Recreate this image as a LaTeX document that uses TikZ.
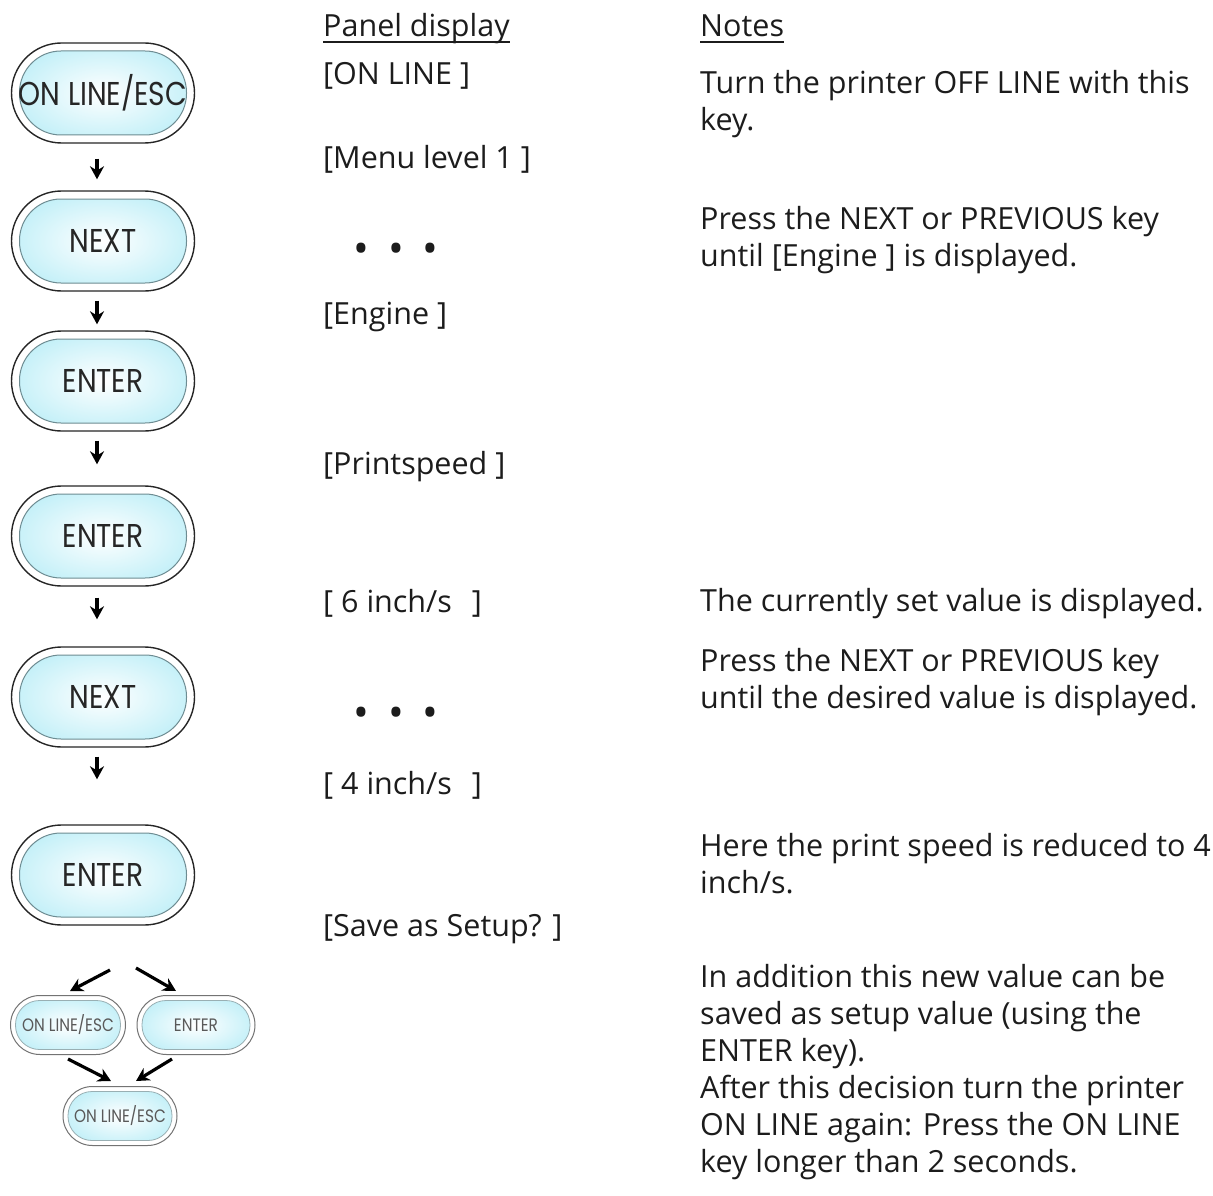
\documentclass[tikz,border=0pt]{standalone}
\usepackage{fontspec}
\setmainfont{Open Sans}
\newfontfamily\keyfont[FakeStretch=0.85]{Poppins}
\usetikzlibrary{arrows.meta, calc, shapes.misc}
\definecolor{keyblue}{RGB}{196,240,248}
\definecolor{keyedge}{RGB}{110,140,146}
\definecolor{ink}{RGB}{28,28,28}

\tikzset{
  keybig/.style={rounded rectangle, draw=black!85, line width=1.4pt, fill=white,
    minimum width=183pt, minimum height=100pt, inner sep=0pt, text=black!85,
    font=\keyfont\fontsize{33}{33}\selectfont,
    path picture={\shadedraw[inner color=white, outer color=keyblue, draw=keyedge, line width=1pt, rounded corners=41.5pt]
      ([shift={(8pt,8pt)}]path picture bounding box.south west) rectangle ([shift={(-8pt,-8pt)}]path picture bounding box.north east);}},
  keysmall/.style={rounded rectangle, draw=black!55, line width=1pt, fill=white,
    minimum width=115pt, minimum height=59pt, inner sep=0pt, text=black!65,
    font=\keyfont\fontsize{18}{18}\selectfont,
    path picture={\shadedraw[inner color=white, outer color=keyblue, draw=keyedge!70, line width=0.8pt, rounded corners=24pt]
      ([shift={(5pt,5pt)}]path picture bounding box.south west) rectangle ([shift={(-5pt,-5pt)}]path picture bounding box.north east);}},
  panel/.style={anchor=base west, inner sep=0pt, align=left, text=ink},
  dots/.style={text=ink, font=\fontsize{42}{42}\selectfont},
  keyarrow/.style={-{Stealth[length=13pt, width=14pt]}, line width=3.2pt},
}

\begin{document}
\begin{tikzpicture}[x=1pt, y=-1pt, every node/.style={font=\fontsize{30.5}{37}\selectfont}]
  \useasboundingbox (0,0) rectangle (1213,1196);
  % keys
  \node[keybig] (esc) at (103,93) {ON LINE/ESC};
  \node[keybig] (next1) at (103,241) {NEXT};
  \node[keybig] (enter1) at (103,381) {ENTER};
  \node[keybig] (enter2) at (103,536) {ENTER};
  \node[keybig] (next2) at (103,697) {NEXT};
  \node[keybig] (enter3) at (103,875) {ENTER};
  \node[keysmall] (escl) at (68,1025) {ON LINE/ESC};
  \node[keysmall, minimum width=118pt] (entl) at (196,1025) {ENTER};
  \node[keysmall, minimum width=114pt] (escb) at (120,1116) {ON LINE/ESC};

  \draw[keyarrow, shorten <=15pt, shorten >=11pt] ([xshift=-6pt]esc.south) -- ([xshift=-6pt]next1.north);
  \draw[keyarrow, shorten <=9pt, shorten >=6pt] ([xshift=-6pt]next1.south) -- ([xshift=-6pt]enter1.north);
  \draw[keyarrow, shorten <=9pt, shorten >=21pt] ([xshift=-6pt]enter1.south) -- ([xshift=-6pt]enter2.north);
  \draw[keyarrow, shorten <=11pt, shorten >=27pt] ([xshift=-6pt]enter2.south) -- ([xshift=-6pt]next2.north);
  \draw[keyarrow, shorten <=9pt, shorten >=45pt] ([xshift=-6pt]next2.south) -- ([xshift=-6pt]enter3.north);

  % decision
  \coordinate (forkl) at (110,970);
  \coordinate (forkr) at (136,968);
  \coordinate (tipl) at (70,991);
  \coordinate (tipr) at (176,991);
  \coordinate (backl) at (68,1059);
  \coordinate (backr) at (172,1059);
  \coordinate (tipbl) at (111,1081);
  \coordinate (tipbr) at (136,1081);
  \draw[keyarrow] (forkl) -- (tipl);
  \draw[keyarrow] (forkr) -- (tipr);
  \draw[keyarrow] (backl) -- (tipbl);
  \draw[keyarrow] (backr) -- (tipbr);

  % panel display
  \node[panel] (hdpanel) at (323,37) {Panel display};
  \draw[line width=1.6pt, ink] ([yshift=-5pt]hdpanel.base west) -- ([yshift=-5pt]hdpanel.base east);
  \node[panel] (pon) at (323,85) {[ON LINE ]};
  \node[panel] (pmenu) at (323,168) {[Menu level 1 ]};
  \node[dots] (pdots1) at (396,253) {•\hspace{19pt}•\hspace{19pt}•};
  \node[panel] (pengine) at (323,324) {[Engine ]};
  \node[panel] (pspeed) at (323,474) {[Printspeed ]};
  \node[panel] (psix) at (323,612) {[ 6 inch/s\hspace*{20pt}]};
  \node[dots] (pdots2) at (396,717) {•\hspace{19pt}•\hspace{19pt}•};
  \node[panel] (pfour) at (323,794) {[ 4 inch/s\hspace*{20pt}]};
  \node[panel] (psave) at (323,936) {[Save as Setup? ]};

  % notes (base = last line)
  \node[panel] (hdnotes) at (700,37) {Notes};
  \draw[line width=1.6pt, ink] ([yshift=-5pt]hdnotes.base west) -- ([yshift=-5pt]hdnotes.base east);
  \node[panel] (nofl) at (700,131) {Turn the printer OFF LINE with this\\key.};
  \node[panel] (nnext1) at (700,266) {Press the NEXT or PREVIOUS key\\until [Engine ] is displayed.};
  \node[panel] (ncur) at (700,611) {The currently set value is displayed.};
  \node[panel] (nnext2) at (700,708) {Press the NEXT or PREVIOUS key\\until the desired value is displayed.};
  \node[panel] (nred) at (700,893) {Here the print speed is reduced to 4\\inch/s.};
  \node[panel] (nsave) at (700,1172) {In addition this new value can be\\saved as setup value (using the\\ENTER key).\\After this decision turn the printer\\ON LINE again: Press the ON LINE\\key longer than 2 seconds.};
\end{tikzpicture}
\end{document}
